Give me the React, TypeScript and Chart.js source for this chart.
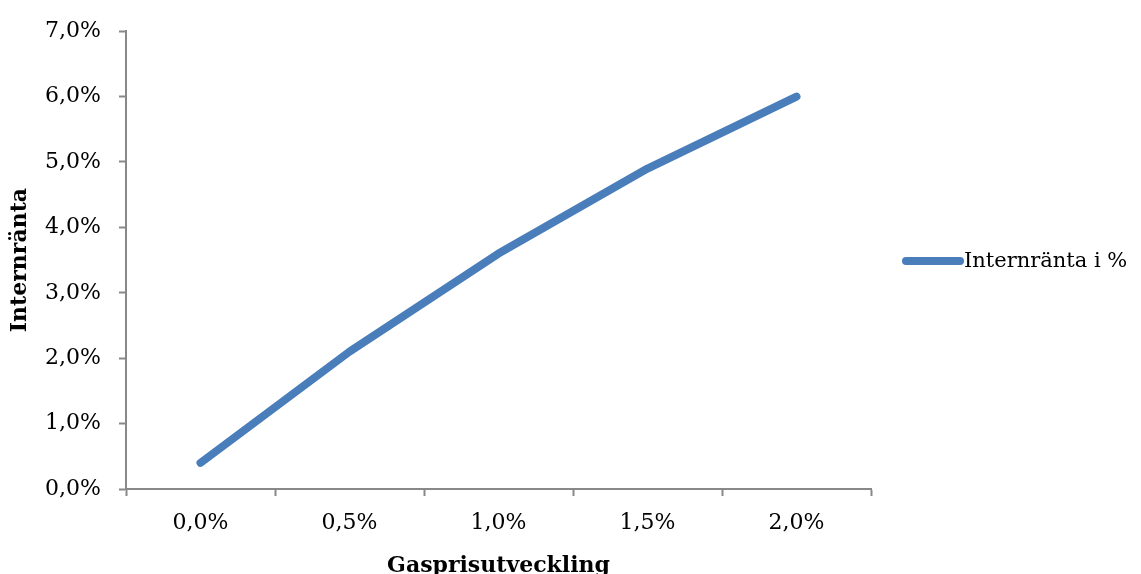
import React, { useEffect, useRef } from "react";
import { Chart, registerables } from "chart.js";

Chart.register(...registerables);

const categories = ["0,0%", "0,5%", "1,0%", "1,5%", "2,0%"];
const seriesName = "Internränta i %";
const values = [0.4, 2.1, 3.6, 4.9, 6.0];
const yTicks = [0, 1, 2, 3, 4, 5, 6, 7];
const xTitle = "Gasprisutveckling";
const yTitle = "Internränta";

const FONT = "'DejaVu Serif', serif";
const LINE_COLOR = "#4a7ebb";
const AXIS_COLOR = "#888888";

const legendPlugin = {
  id: "customLegend",
  afterDraw(chart: any) {
    const ctx = chart.ctx;
    const area = chart.chartArea;
    const y = (area.top + area.bottom) / 2 + 1;
    const x0 = area.right + 35;
    ctx.save();
    ctx.strokeStyle = LINE_COLOR;
    ctx.lineWidth = 8;
    ctx.lineCap = "round";
    ctx.beginPath();
    ctx.moveTo(x0, y);
    ctx.lineTo(x0 + 54, y);
    ctx.stroke();
    ctx.fillStyle = "#000";
    ctx.font = `21px ${FONT}`;
    ctx.textBaseline = "middle";
    ctx.textAlign = "left";
    ctx.fillText(seriesName, x0 + 58, y);
    ctx.restore();
  },
};

export default function App() {
  const ref = useRef<HTMLCanvasElement>(null);
  useEffect(() => {
    if (!ref.current) return;
    const chart = new Chart(ref.current, {
      type: "line",
      data: {
        labels: categories,
        datasets: [
          {
            label: seriesName,
            data: values,
            borderColor: LINE_COLOR,
            backgroundColor: LINE_COLOR,
            borderWidth: 8,
            borderCapStyle: "round",
            borderJoinStyle: "round",
            pointRadius: 0,
            tension: 0,
            fill: false,
          },
        ],
      },
      options: {
        animation: false,
        responsive: false,
        maintainAspectRatio: false,
        layout: { padding: { top: 27, right: 270, left: 0, bottom: 0 } },
        plugins: {
          legend: { display: false },
          tooltip: { enabled: false },
        },
        scales: {
          x: {
            type: "category",
            offset: true,
            border: { display: true, color: AXIS_COLOR, width: 2 },
            grid: {
              display: true,
              drawOnChartArea: false,
              drawTicks: true,
              tickLength: 7,
              tickColor: AXIS_COLOR,
              tickWidth: 2,
              offset: true,
            },
            ticks: {
              color: "#000",
              font: { family: FONT, size: 22 },
              padding: 14,
              maxRotation: 0,
            },
            title: {
              display: true,
              text: xTitle,
              color: "#000",
              font: { family: FONT, size: 22, weight: "bold" },
              padding: { top: 0, bottom: -5 },
            },
            afterFit(scale: any) {
              scale.height = 85;
            },
          },
          y: {
            min: 0,
            max: 7,
            border: { display: true, color: AXIS_COLOR, width: 2 },
            grid: {
              display: true,
              drawOnChartArea: false,
              drawTicks: true,
              tickLength: 7,
              tickColor: AXIS_COLOR,
              tickWidth: 2,
            },
            afterBuildTicks(scale: any) {
              scale.ticks = yTicks.map((v) => ({ value: v }));
            },
            ticks: {
              color: "#000",
              font: { family: FONT, size: 22 },
              padding: 18,
              callback: (v: any) => `${Number(v).toFixed(1).replace(".", ",")}%`,
            },
            title: {
              display: true,
              text: yTitle,
              color: "#000",
              font: { family: FONT, size: 22, weight: "bold" },
              padding: { top: 7, bottom: 0 },
            },
            afterFit(scale: any) {
              scale.width = 126;
            },
          },
        },
      },
      plugins: [legendPlugin],
    } as any);
    return () => chart.destroy();
  }, []);
  return (
    <div style={{ position: "fixed", left: 0, top: 0, width: 1141, height: 574, background: "#fff" }}>
      <canvas ref={ref} width={1141} height={574} style={{ width: 1141, height: 574, display: "block" }} />
    </div>
  );
}
